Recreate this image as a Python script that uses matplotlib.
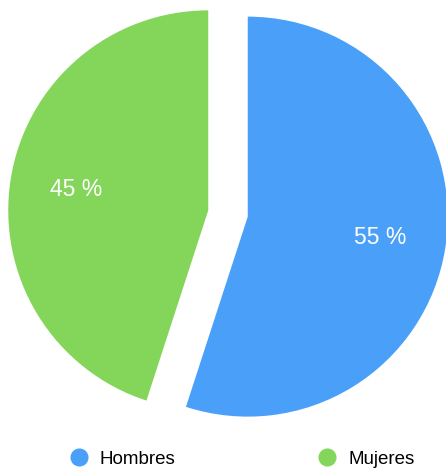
import matplotlib.pyplot as plt
from matplotlib.lines import Line2D

labels = ["Hombres", "Mujeres"]
shares = [55, 45]
colors = ["#4aa0f8", "#84d65a"]

W, H = 446, 469
fig = plt.figure(figsize=(W / 100, H / 100), dpi=100)
ax = fig.add_axes([0, 0, 1, 1])

# explode is in data units here (pixels)
wedges, texts, autotexts = ax.pie(
    shares, colors=colors, startangle=90, counterclock=False,
    center=(228, H - 213.5), radius=200, explode=[20, 20],
    autopct=lambda p: "%d %%" % round(p), pctdistance=0.67,
    textprops=dict(color="white", fontsize=16.5, family="Liberation Sans"),
    frame=True)
ax.set_xlim(0, W)
ax.set_ylim(0, H)
ax.axis("off")

handles = [Line2D([], [], marker="o", ls="", markersize=12, color=c) for c in colors]
fig.legend(handles, labels, loc="center", bbox_to_anchor=(0.5321, (H - 459) / H),
           ncol=2, frameon=False, columnspacing=7.1, handletextpad=0.1,
           prop=dict(family="Liberation Sans", size=13.5))

fig.savefig("out.png", dpi=100)
